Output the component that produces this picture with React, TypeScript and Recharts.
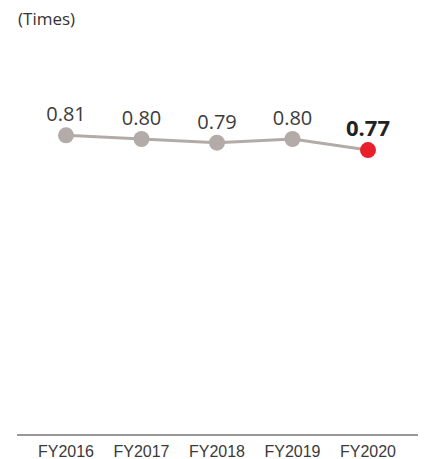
import { LineChart, Line, XAxis, YAxis, LabelList } from "recharts";

const years = ["FY2016", "FY2017", "FY2018", "FY2019", "FY2020"];
const ratios = [0.81, 0.8, 0.79, 0.8, 0.77];

const data = years.map((year, i) => ({ year, value: ratios[i] }));
const lastIndex = data.length - 1;

const renderDot = (props: any) => {
    const { cx, cy, index } = props;
    const isLast = index === lastIndex;
    return (
        <circle
            key={`dot-${index}`}
            cx={cx}
            cy={cy}
            r={8}
            fill={isLast ? "#e8202a" : "#b3aba7"}
            stroke="none"
        />
    );
};

// latest year's value is set in bold
const renderLabel = (props: any) => {
    const { x, y, value, index } = props;
    const isLast = index === lastIndex;
    return (
        <text
            key={`label-${index}`}
            x={x}
            y={y - 14}
            textAnchor="middle"
            fontFamily="'Open Sans', sans-serif"
            fontSize={isLast ? 22 : 20}
            fontWeight={isLast ? 700 : 400}
            fill={isLast ? "#222" : "#3c3c3c"}
        >
            {Number(value).toFixed(2)}
        </text>
    );
};

export default function App() {
    return (
        <div style={{ position: "relative", width: 414, height: 451 }}>
            <div
                style={{
                    position: "absolute",
                    left: 10,
                    top: -1,
                    fontFamily: "'Open Sans', sans-serif",
                    fontSize: 17,
                    color: "#333",
                }}
            >
                (Times)
            </div>
            <LineChart
                width={414}
                height={451}
                data={data}
                margin={{ top: 57, right: 4, left: 9, bottom: 0 }}
            >
                <XAxis
                    dataKey="year"
                    height={24}
                    padding={{ left: 49, right: 50 }}
                    axisLine={{ stroke: "#333", strokeWidth: 1.2 }}
                    tickLine={false}
                    tickMargin={5}
                    tick={{ fill: "#3a3a3a", fontSize: 16, fontFamily: "'Liberation Sans', Arial, sans-serif" }}
                    interval={0}
                />
                <YAxis hide domain={[0, 1]} />
                <Line
                    type="linear"
                    dataKey="value"
                    stroke="#b3aba7"
                    strokeWidth={3}
                    dot={renderDot}
                    activeDot={false}
                    isAnimationActive={false}
                >
                    <LabelList dataKey="value" content={renderLabel} />
                </Line>
            </LineChart>
        </div>
    );
}
